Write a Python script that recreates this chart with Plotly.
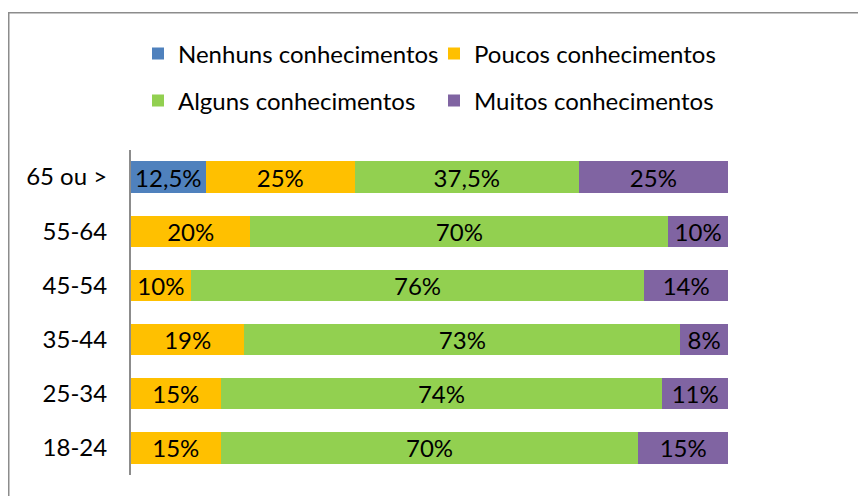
import plotly.graph_objects as go

categories = ["18-24", "25-34", "35-44", "45-54", "55-64", "65 ou >"]
nenhuns = [0, 0, 0, 0, 0, 12.5]
poucos = [15, 15, 19, 10, 20, 25]
alguns = [70, 74, 73, 76, 70, 37.5]
muitos = [15, 11, 8, 14, 10, 25]

series = [
    ("Nenhuns conhecimentos", nenhuns, "#4F81BD", "legend"),
    ("Poucos conhecimentos", poucos, "#FFC000", "legend"),
    ("Alguns conhecimentos", alguns, "#92D050", "legend2"),
    ("Muitos conhecimentos", muitos, "#8064A2", "legend2"),
]

FONT = "Lato"
FS = 24
W, H = 858, 488
L, R, T, B = 123, 138, 142, 21

def lab(v):
    if v == 0:
        return ""
    s = f"{v:g}".replace(".", ",")
    return s + "%"

fig = go.Figure()
for name, vals, color, lg in series:
    fig.add_trace(go.Bar(
        y=categories, x=vals, name=name, orientation="h",
        marker=dict(color=color, line=dict(width=0)),
        text=[lab(v) for v in vals], textposition="inside",
        insidetextanchor="middle", constraintext="none",
        textfont=dict(family=FONT, size=FS, color="black"),
        legend=lg, hoverinfo="skip",
    ))

pw = W - L - R
ph = H - T - B
def px_x(p):
    return (p - L) / pw
def px_y(p):
    return (H - B - p) / ph

fig.add_shape(type="rect", xref="paper", yref="paper",
              x0=px_x(0.75), x1=px_x(900), y0=px_y(520), y1=px_y(4.75),
              line=dict(color="#8c8c8c", width=1.5), fillcolor="rgba(0,0,0,0)", layer="below")

legend_common = dict(orientation="h", xref="container", yref="container",
                     xanchor="left", yanchor="middle",
                     font=dict(family=FONT, size=FS, color="black"),
                     entrywidthmode="pixels", entrywidth=251,
                     bgcolor="rgba(0,0,0,0)", traceorder="normal")

fig.update_layout(
    width=W, height=H,
    margin=dict(l=L, r=R, t=T, b=B),
    barmode="stack", bargap=0.42,
    plot_bgcolor="white", paper_bgcolor="white",
    font=dict(family=FONT, size=FS, color="black"),
    xaxis=dict(range=[0, 100], visible=False, fixedrange=True),
    yaxis=dict(showline=True, linecolor="#8c8c8c", linewidth=2,
               ticks="", showgrid=False, ticklabelstandoff=17,
               tickfont=dict(family=FONT, size=FS, color="black")),
    legend=dict(x=130 / W, y=1 - 46 / H, **legend_common),
    legend2=dict(x=130 / W, y=1 - 93 / H, **legend_common),
)

fig.write_html("out.html")
